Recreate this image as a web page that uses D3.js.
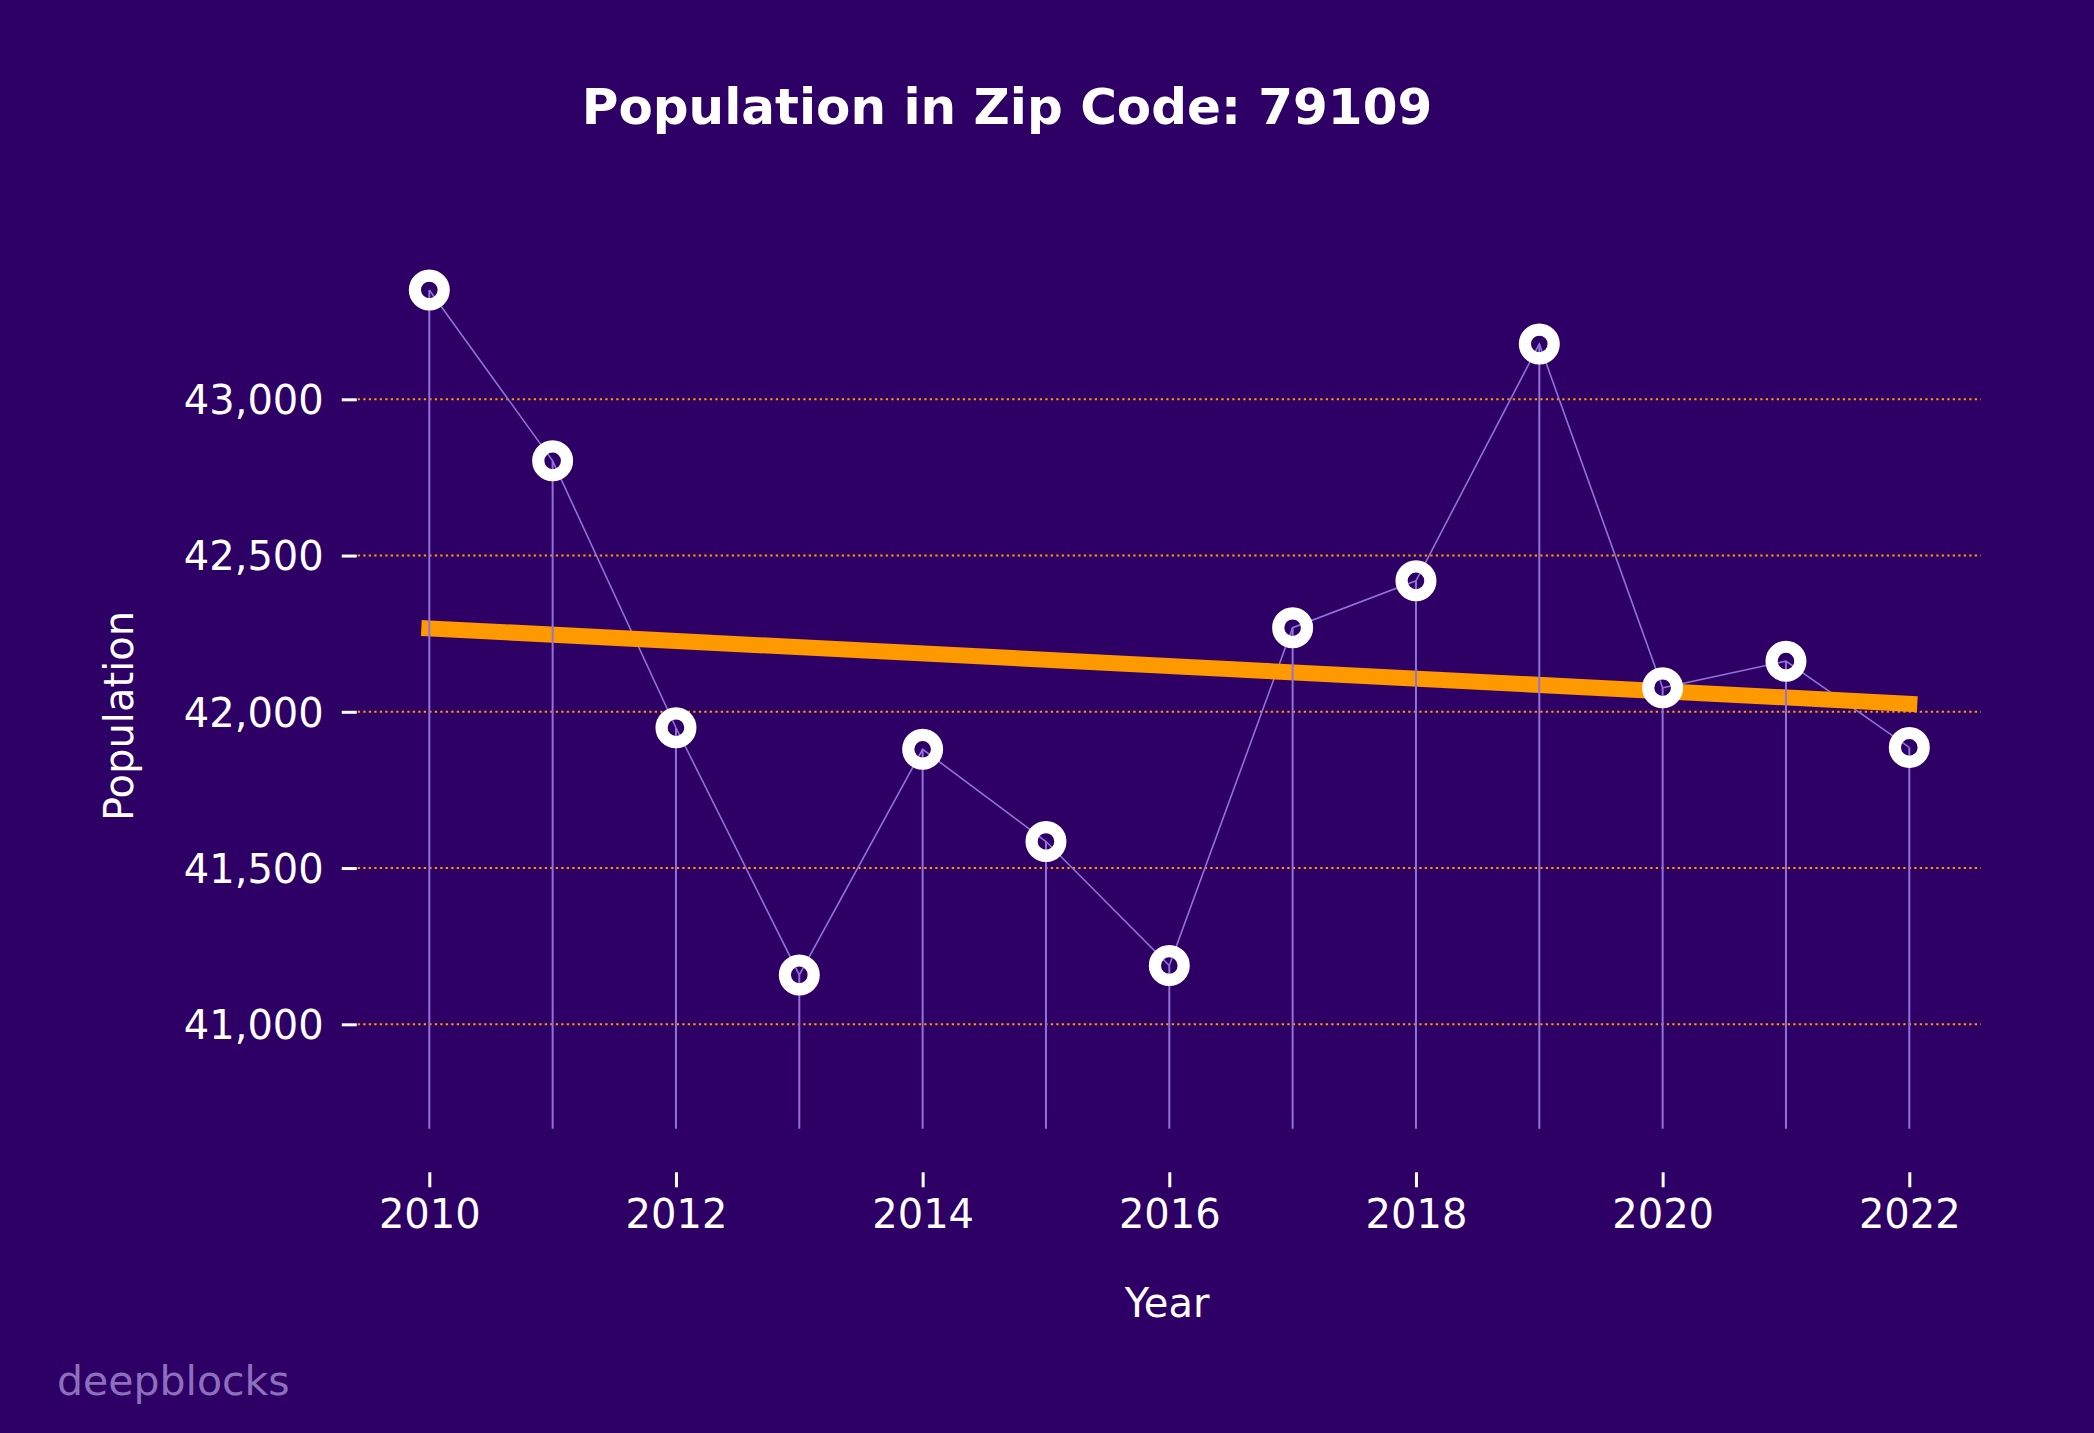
<!DOCTYPE html>
<html>
<head>
<meta charset="utf-8">
<script src="https://cdn.jsdelivr.net/npm/d3@7"></script>
<style>
  html, body { margin: 0; padding: 0; background: #2e0066; }
  svg { display: block; }
  text { font-family: "DejaVu Sans", sans-serif; }
</style>
</head>
<body>
<script>
// ---- data ----
const years = [2010, 2011, 2012, 2013, 2014, 2015, 2016, 2017, 2018, 2019, 2020, 2021, 2022];
const population = [43350, 42803, 41949, 41158, 41880, 41585, 41188, 42269, 42419, 43177, 42077, 42162, 41886];
const yTickValues = [41000, 41500, 42000, 42500, 43000];
const xTickValues = [2010, 2012, 2014, 2016, 2018, 2020, 2022];
const titleText = "Population in Zip Code: 79109";
const xLabel = "Year";
const yLabel = "Population";
const watermark = "deepblocks";

// ---- layout ----
const W = 2094, H = 1433;
const bg = "#2e0066";
const stemColor = "#8f73d6";
const orange = "#ff9900";

const x = d3.scaleLinear().domain([2010, 2022]).range([429.3, 1909.3]);
const y = d3.scaleLinear().domain([41000, 43000]).range([1024.3, 399.3]);
const xExtent = [2009.42, 2022.58];
const stemBase = 40666;

const svg = d3.select("body").append("svg").attr("width", W).attr("height", H);
svg.append("rect").attr("width", W).attr("height", H).attr("fill", bg);

const pts = years.map((yr, i) => ({ yr, v: population[i] }));

// clip path: marker holes
const defs = svg.append("defs");
defs.append("clipPath").attr("id", "holes").selectAll("circle").data(pts).join("circle")
  .attr("cx", d => x(d.yr)).attr("cy", d => y(d.v)).attr("r", 8.6);

// gridlines
svg.append("g").selectAll("line").data(yTickValues).join("line")
  .attr("x1", x(xExtent[0])).attr("x2", x(xExtent[1]))
  .attr("y1", d => y(d)).attr("y2", d => y(d))
  .attr("stroke", orange).attr("stroke-width", 2)
  .attr("stroke-dasharray", "2.3,3.2");

// y axis (ticks + labels)
const yAxis = d3.axisLeft(y).tickValues(yTickValues).tickSize(15).tickPadding(18)
  .tickFormat(d3.format(","));
const gy = svg.append("g").attr("transform", `translate(${x(xExtent[0]) - 1},0)`).call(yAxis);
gy.select(".domain").remove();
gy.selectAll(".tick line").attr("stroke", "#ffffff").attr("stroke-width", 3);
gy.selectAll(".tick text").attr("fill", "#ffffff").attr("font-size", 40)
  .attr("font-family", "DejaVu Sans").attr("dy", "0.36em");

// x axis
const xAxis = d3.axisBottom(x).tickValues(xTickValues).tickSize(15).tickPadding(12)
  .tickFormat(d3.format("d"));
const gx = svg.append("g").attr("transform", `translate(0,1172.3)`).call(xAxis);
gx.select(".domain").remove();
gx.selectAll(".tick line").attr("stroke", "#ffffff").attr("stroke-width", 3);
gx.selectAll(".tick text").attr("fill", "#ffffff").attr("font-size", 40)
  .attr("font-family", "DejaVu Sans").attr("dy", "0.71em");

const lineGen = d3.line().x(d => x(d.yr)).y(d => y(d.v));

// connecting line
svg.append("path").datum(pts)
  .attr("d", lineGen)
  .attr("fill", "none").attr("stroke", stemColor).attr("stroke-width", 1.6);

// linear trend (least squares)
const mx = d3.mean(years), my = d3.mean(population);
const sxy = d3.sum(years, (yr, i) => (yr - mx) * (population[i] - my));
const sxx = d3.sum(years, yr => (yr - mx) * (yr - mx));
const slope = sxy / sxx, icpt = my - slope * mx;
const trend = [years[0], years[years.length - 1]].map(yr => ({ yr, v: icpt + slope * yr }));
svg.append("path").datum(trend)
  .attr("d", lineGen)
  .attr("fill", "none").attr("stroke", orange).attr("stroke-width", 16)
  .attr("stroke-linecap", "square");

// marker faces
svg.append("g").selectAll("circle").data(pts).join("circle")
  .attr("cx", d => x(d.yr)).attr("cy", d => y(d.v)).attr("r", 14.4)
  .attr("fill", bg);

// connecting line visible inside marker holes
svg.append("path").datum(pts)
  .attr("d", lineGen).attr("clip-path", "url(#holes)")
  .attr("fill", "none").attr("stroke", stemColor).attr("stroke-width", 1.6);

// stems
svg.append("g").selectAll("line").data(pts).join("line")
  .attr("x1", d => x(d.yr)).attr("x2", d => x(d.yr))
  .attr("y1", d => y(d.v)).attr("y2", y(stemBase))
  .attr("stroke", stemColor).attr("stroke-width", 2);

// marker rings
svg.append("g").selectAll("circle").data(pts).join("circle")
  .attr("cx", d => x(d.yr)).attr("cy", d => y(d.v)).attr("r", 14.4)
  .attr("fill", "none").attr("stroke", "#ffffff").attr("stroke-width", 12.2);

// title
svg.append("text").attr("x", 1007).attr("y", 124).attr("text-anchor", "middle")
  .attr("font-size", 50).attr("font-weight", "bold").attr("fill", "#ffffff").text(titleText);

// axis labels
svg.append("text").attr("x", 1167).attr("y", 1317).attr("text-anchor", "middle")
  .attr("font-size", 40).attr("fill", "#ffffff").text(xLabel);
svg.append("text").attr("transform", "translate(133,716) rotate(-90)").attr("text-anchor", "middle")
  .attr("font-size", 40).attr("fill", "#ffffff").text(yLabel);

// watermark
svg.append("text").attr("x", 57).attr("y", 1395).attr("font-size", 41)
  .attr("fill", "#8c70be").text(watermark);
</script>
</body>
</html>
